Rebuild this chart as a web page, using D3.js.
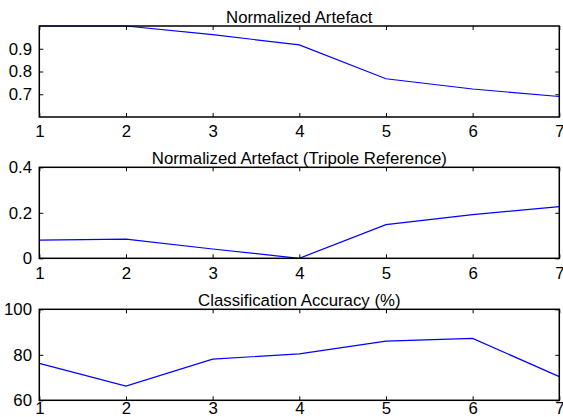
<!DOCTYPE html>
<html>
<head>
<meta charset="utf-8">
<script src="https://d3js.org/d3.v7.min.js"></script>
<style>
  body { margin: 0; background: #fff; }
  svg { display: block; }
  text { font-family: "Liberation Sans", Arial, Helvetica, sans-serif; fill: #000; }
</style>
</head>
<body>
<svg id="chart" width="563" height="417"></svg>
<script>
// Chart Data
const xValues = [1, 2, 3, 4, 5, 6, 7];
const artefact = [1.0, 1.0, 0.962, 0.917, 0.768, 0.723, 0.69];
const tripole = [0.080, 0.084, 0.041, 0.0, 0.148, 0.192, 0.227];
const accuracy = [76.2, 66.2, 78.1, 80.4, 86.0, 87.2, 70.4];

const titles = ["Normalized Artefact", "Normalized Artefact (Tripole Reference)", "Classification Accuracy (%)"];
const yDomains = [[0.6, 1.0], [0, 0.4], [60, 100]];
const yTickValues = [[0.7, 0.8, 0.9], [0, 0.2, 0.4], [60, 80, 100]];
const yTickLabels = [["0.7", "0.8", "0.9"], ["0", "0.2", "0.4"], ["60", "80", "100"]];
const xTickLabels = ["1", "2", "3", "4", "5", "6", "7"];

// Layout
const left = 39.3;
const right = 559.3;
const panelTops = [26, 167.3, 309.3];
const panelHeight = 91;
const tickLen = 4;
const fontSize = 16.8;

const svg = d3.select("#chart");

// Render one subplot
function renderPanel(index, values) {
  const top = panelTops[index];
  const bottom = top + panelHeight;

  const x = d3.scaleLinear().domain([1, 7]).range([left, right]);
  const y = d3.scaleLinear().domain(yDomains[index]).range([bottom, top]);

  const g = svg.append("g");

  // Ticks (inward, mirrored on all sides)
  const xTickFmt = (d, i) => xTickLabels[i];
  const yTickFmt = (d, i) => yTickLabels[index][i];
  // last row of labels sits right at the bottom edge of the figure
  const xPad = index === 2 ? 1.5 : tickLen + 4.5;

  g.append("g")
    .attr("transform", `translate(0,${bottom})`)
    .call(d3.axisBottom(x).tickValues(xValues).tickSize(-tickLen).tickPadding(xPad).tickFormat(xTickFmt));
  g.append("g")
    .attr("transform", `translate(0,${top})`)
    .call(d3.axisTop(x).tickValues(xValues).tickSize(-tickLen).tickFormat(""));
  g.append("g")
    .attr("transform", `translate(${left},0)`)
    .call(d3.axisLeft(y).tickValues(yTickValues[index]).tickSize(-tickLen).tickPadding(tickLen + 3.3).tickFormat(yTickFmt));
  g.append("g")
    .attr("transform", `translate(${right},0)`)
    .call(d3.axisRight(y).tickValues(yTickValues[index]).tickSize(-tickLen).tickFormat(""));

  g.selectAll(".domain").remove();
  g.selectAll(".tick line").attr("stroke", "#000").attr("stroke-width", 1);
  g.selectAll(".tick text")
    .attr("font-family", "Liberation Sans, Arial, sans-serif")
    .attr("font-size", fontSize)
    .attr("fill", "#000");

  // Data line
  const line = d3.line()
    .x((d, i) => x(xValues[i]))
    .y(d => y(d));

  g.append("path")
    .datum(values)
    .attr("fill", "none")
    .attr("stroke", "#0000ff")
    .attr("stroke-width", 1.2)
    .attr("d", line);

  // Box
  g.append("rect")
    .attr("x", left)
    .attr("y", top)
    .attr("width", right - left)
    .attr("height", panelHeight)
    .attr("fill", "none")
    .attr("stroke", "#000")
    .attr("stroke-width", 1.5);

  // Title
  g.append("text")
    .attr("x", (left + right) / 2)
    .attr("y", top - 3.3)
    .attr("text-anchor", "middle")
    .attr("font-size", fontSize)
    .text(titles[index]);
}

renderPanel(0, artefact);
renderPanel(1, tripole);
renderPanel(2, accuracy);
</script>
</body>
</html>
